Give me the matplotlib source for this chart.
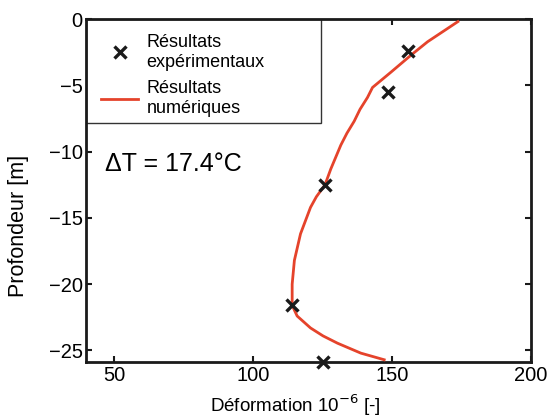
import matplotlib
matplotlib.use('Agg')
import matplotlib.pyplot as plt
from matplotlib.patches import Rectangle

plt.rcParams['font.family'] = ['Liberation Sans', 'DejaVu Sans']

# experimental points (deformation, depth)
exp_def = [155.9, 148.7, 125.9, 114.1, 125.3]
exp_depth = [-2.4, -5.5, -12.5, -21.6, -25.9]

# numerical curve
num_def = [173.7, 162.8, 156.9, 149.6, 143.0, 141.2, 138.5, 136.4, 133.8, 131.6, 128.0, 125.9,
           122.8, 120.7, 117.1, 114.9, 114.1, 114.1, 115.9, 120.7, 125.2, 130.4, 138.8, 147.2]
num_depth = [-0.18, -1.7, -2.7, -4.0, -5.15, -5.9, -6.8, -7.7, -8.6, -9.5, -11.3, -12.5,
             -13.4, -14.2, -16.2, -18.2, -20.0, -21.6, -22.4, -23.3, -23.9, -24.45, -25.2, -25.7]

x_ticks = [50, 100, 150, 200]
y_ticks = [0, -5, -10, -15, -20, -25]

fig = plt.figure(figsize=(5.52, 4.18), dpi=100)
ax = fig.add_axes([0.156, 0.133, 0.806, 0.821])

ax.plot(exp_def, exp_depth, 'x', color='#1a1a1a', ms=8, mew=2.4,
        label='Résultats\nexpérimentaux', clip_on=False, zorder=4)
ax.plot(num_def, num_depth, '-', color='#e5432b', lw=2,
        label='Résultats\nnumériques', zorder=3)

ax.set_xlim(40, 200)
ax.set_ylim(-25.9, 0)
ax.set_xticks(x_ticks)
ax.set_yticks(y_ticks)
ax.tick_params(direction='in', top=True, right=True, length=4, width=1.5,
               labelsize=14.5, pad=2.5, color='#1a1a1a')
for s in ax.spines.values():
    s.set_linewidth(2)
    s.set_color('#1a1a1a')

ax.set_xlabel('Déformation 10$^{-6}$ [-]', fontsize=13.5)
ax.xaxis.set_label_coords(0.47, -0.088)
ax.set_ylabel('Profondeur [m]', fontsize=15.5)
ax.yaxis.set_label_coords(-0.128, 0.398)

ax.text(46.8, -10.9, 'ΔT = 17.4°C', fontsize=18, va='center', ha='left')

# legend without its own frame, box drawn separately to match the size
leg = ax.legend(loc='upper left', bbox_to_anchor=(0, 0, 0.527, 1), mode='expand',
                borderaxespad=0, frameon=False, fontsize=13, handlelength=2.1,
                labelspacing=0.5, borderpad=0.8, handletextpad=0.45)
for t in leg.get_texts():
    t.set_linespacing(1.25)
ax.add_patch(Rectangle((0, 0.699), 0.527, 0.301, transform=ax.transAxes,
                       facecolor='white', edgecolor='#333333', lw=1, zorder=2.5))

fig.savefig('out.png', dpi=100)
